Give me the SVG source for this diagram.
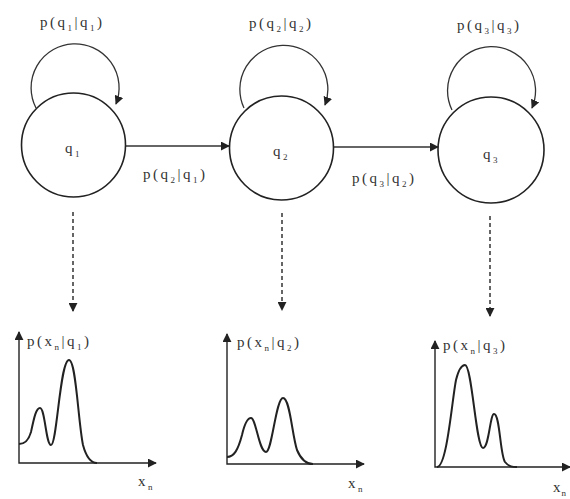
<svg xmlns="http://www.w3.org/2000/svg" width="570" height="499" viewBox="0 0 570 499">
<style>
text{font-family:"Liberation Serif","Times New Roman",serif;fill:#333;font-size:15px;letter-spacing:2.5px}
.sub{font-size:9px}
.node{fill:none;stroke:#222;stroke-width:1.6}
.edge{fill:none;stroke:#333;stroke-width:1.3}
.dash{fill:none;stroke:#333;stroke-width:1.5;stroke-dasharray:4 3}
.axis{fill:none;stroke:#222;stroke-width:1.4}
.curve{fill:none;stroke:#222;stroke-width:2}
.tight{letter-spacing:1px}
</style>
<defs>
<marker id="ah" viewBox="0 0 10 10" refX="9" refY="5" markerWidth="9" markerHeight="9" markerUnits="userSpaceOnUse" orient="auto-start-reverse">
<path d="M0,0 L10,5 L0,10 z" fill="#222"/>
</marker>
</defs>
<rect width="570" height="499" fill="#fff"/>
<g id="connectors">
<path class="edge" d="M36,108 A44,44 0 1 1 116,104" marker-end="url(#ah)"/>
<path class="edge" d="M244,108 A44,44 0 1 1 325,105" marker-end="url(#ah)"/>
<path class="edge" d="M452,110 A44,44 0 1 1 532,108" marker-end="url(#ah)"/>
<line class="edge" x1="126" y1="146" x2="229" y2="146" marker-end="url(#ah)"/>
<line class="edge" x1="334" y1="147" x2="438" y2="147" marker-end="url(#ah)"/>
<line class="dash" x1="73" y1="212" x2="73" y2="311" marker-end="url(#ah)"/>
<line class="dash" x1="282" y1="213" x2="282" y2="310" marker-end="url(#ah)"/>
<line class="dash" x1="490" y1="216" x2="490" y2="316" marker-end="url(#ah)"/>
<text x="40" y="27">p(q<tspan class="sub" dy="4">1</tspan><tspan dy="-4">|q</tspan><tspan class="sub" dy="4">1</tspan><tspan dy="-4">)</tspan></text>
<text x="249" y="28">p(q<tspan class="sub" dy="4">2</tspan><tspan dy="-4">|q</tspan><tspan class="sub" dy="4">2</tspan><tspan dy="-4">)</tspan></text>
<text x="457" y="30">p(q<tspan class="sub" dy="4">3</tspan><tspan dy="-4">|q</tspan><tspan class="sub" dy="4">3</tspan><tspan dy="-4">)</tspan></text>
<text x="143" y="179">p(q<tspan class="sub" dy="4">2</tspan><tspan dy="-4">|q</tspan><tspan class="sub" dy="4">1</tspan><tspan dy="-4">)</tspan></text>
<text x="352" y="183">p(q<tspan class="sub" dy="4">3</tspan><tspan dy="-4">|q</tspan><tspan class="sub" dy="4">2</tspan><tspan dy="-4">)</tspan></text>
</g>
<g id="q1">
<circle class="node" cx="73.5" cy="145" r="52"/>
<text x="65" y="153">q<tspan class="sub" dy="4">1</tspan></text>
</g>
<g id="q2">
<circle class="node" cx="281.5" cy="148" r="52"/>
<text x="273" y="156">q<tspan class="sub" dy="4">2</tspan></text>
</g>
<g id="q3">
<circle class="node" cx="491" cy="150" r="53"/>
<text x="483" y="159">q<tspan class="sub" dy="4">3</tspan></text>
</g>
<g id="graph1">
<polyline class="axis" points="19,332 19,463 156,463" marker-start="url(#ah)" marker-end="url(#ah)"/>
<path class="curve" d="M19,444 C24,444 28,442 31,432 C34,418 36,408 40,408 C45,408 46,445 51,445 C57,445 60,360 69,360 C76,360 78,420 83,445 C87,460 92,463 97,463"/>
<text x="27" y="346">p(x<tspan class="sub" dy="4">n</tspan><tspan dy="-4">|q</tspan><tspan class="sub" dy="4">1</tspan><tspan dy="-4">)</tspan></text>
<text x="138" y="486">x<tspan class="sub" dy="4">n</tspan></text>
</g>
<g id="graph2">
<polyline class="axis" points="227,334 227,464 364,464" marker-start="url(#ah)" marker-end="url(#ah)"/>
<path class="curve" d="M227,457 C234,457 238,450 242,435 C245,422 248,418 251,418 C256,418 259,452 266,452 C272,452 276,398 283,398 C290,398 292,435 297,450 C302,462 308,464 313,464"/>
<text x="237" y="347">p(x<tspan class="sub" dy="4">n</tspan><tspan dy="-4">|q</tspan><tspan class="sub" dy="4">2</tspan><tspan dy="-4">)</tspan></text>
<text x="348" y="488">x<tspan class="sub" dy="4">n</tspan></text>
</g>
<g id="graph3">
<polyline class="axis" points="435,341 435,467 570,467" marker-start="url(#ah)" marker-end="url(#ah)"/>
<path class="curve" d="M437,467 C447,467 452,400 456,380 C459,368 462,365 465,365 C472,365 476,448 483,448 C489,448 490,414 494,414 C500,414 500,455 505,462 C509,467 513,467 517,467"/>
<text x="443" y="350">p(x<tspan class="sub" dy="4">n</tspan><tspan dy="-4">|q</tspan><tspan class="sub" dy="4">3</tspan><tspan dy="-4">)</tspan></text>
<text class="tight" x="553" y="492">x<tspan class="sub" dy="4">n</tspan></text>
</g>
</svg>
